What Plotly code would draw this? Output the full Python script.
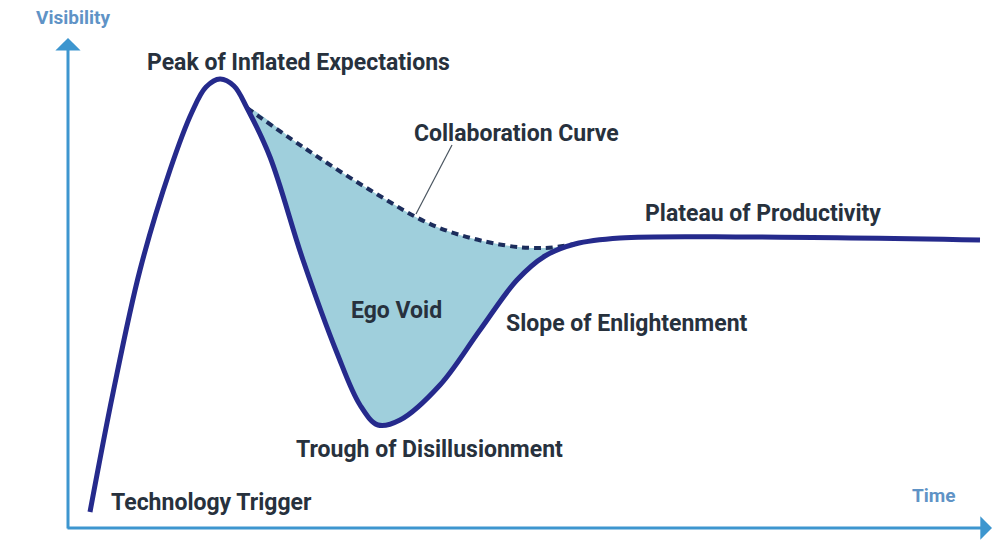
import plotly.graph_objects as go

W, H = 995, 541

# Main hype curve (time, visibility) (visibility given as distance from top, flipped below)
curve_time = [90, 113, 140, 170, 192, 206, 220, 234, 247, 270, 303, 337, 360, 378, 400, 440, 480, 517, 545, 575, 620, 750, 980]
curve_vis_px = [512, 393, 270, 170, 112, 87, 79, 86, 108, 157, 260, 353, 405, 425, 420, 385, 330, 280, 256, 244, 238, 237, 240]
curve_vis = [H - v for v in curve_vis_px]

# Collaboration curve (dashed)
collab_time = [247, 303, 370, 437, 503, 545, 575]
collab_vis_px = [108, 147, 190, 227, 245, 248, 244]
collab_vis = [H - v for v in collab_vis_px]

# Segment of main curve that bounds the Ego Void
i0 = curve_time.index(247)
i1 = curve_time.index(575)
void_time = collab_time + curve_time[i0:i1 + 1][::-1]
void_vis = collab_vis + curve_vis[i0:i1 + 1][::-1]

labels = ["Peak of Inflated Expectations", "Collaboration Curve", "Plateau of Productivity",
          "Ego Void", "Slope of Enlightenment", "Trough of Disillusionment", "Technology Trigger"]
label_x = [298, 516, 763, 396, 627, 429, 211]
label_y_px = [62, 133, 213, 310, 323, 449, 502]

NAVY = "#252a8c"
DARK = "#27313d"
AXIS = "#3d96cf"
AXTXT = "#5f93c6"
FILL = "#9fcfdc"

fig = go.Figure()
fig.add_trace(go.Scatter(x=void_time, y=void_vis, mode="lines", fill="toself",
                         fillcolor=FILL, line=dict(width=0, shape="spline", color=FILL),
                         hoverinfo="skip"))
fig.add_trace(go.Scatter(x=collab_time, y=collab_vis, mode="lines",
                         line=dict(color="#1c2d5c", width=4, dash="7px,5px", shape="spline")))
fig.add_trace(go.Scatter(x=curve_time, y=curve_vis, mode="lines",
                         line=dict(color=NAVY, width=5, shape="spline", smoothing=1)))

for t, x, y in zip(labels, label_x, label_y_px):
    fig.add_annotation(x=x, y=H - y, text=f"<b>{t}</b>", showarrow=False,
                       font=dict(family="Roboto", size=23, color=DARK))

# leader line for Collaboration Curve
fig.add_shape(type="line", x0=452, y0=H - 145, x1=416, y1=H - 214,
              line=dict(color="#4a5560", width=1.2))

# axes with arrows
fig.add_annotation(x=68, y=H - 38, ax=68, ay=H - 530, xref="x", yref="y", axref="x", ayref="y",
                   text="", showarrow=True, arrowhead=1, arrowsize=1.4, arrowwidth=3, arrowcolor=AXIS)
fig.add_annotation(x=992, y=H - 528, ax=66, ay=H - 528, xref="x", yref="y", axref="x", ayref="y",
                   text="", showarrow=True, arrowhead=1, arrowsize=1.3, arrowwidth=3, arrowcolor=AXIS)
fig.add_annotation(x=73, y=H - 17, text="<b>Visibility</b>", showarrow=False,
                   font=dict(family="Roboto", size=19, color=AXTXT))
fig.add_annotation(x=934, y=H - 495, text="<b>Time</b>", showarrow=False,
                   font=dict(family="Roboto", size=19, color=AXTXT))

fig.update_layout(width=W, height=H, margin=dict(l=0, r=0, t=0, b=0),
                  paper_bgcolor="white", plot_bgcolor="white", showlegend=False,
                  xaxis=dict(range=[0, W], visible=False, fixedrange=True),
                  yaxis=dict(range=[0, H], visible=False, fixedrange=True))
fig.write_html("out.html", config={"displayModeBar": False},
               post_script="document.body.style.margin='0';document.body.style.overflow='hidden';")
